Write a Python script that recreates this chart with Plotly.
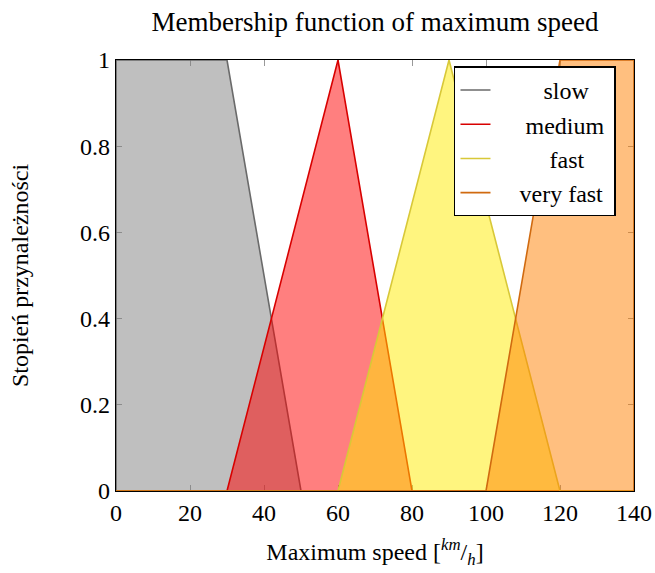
import plotly.graph_objects as go

# Data: breakpoints of each membership function over the speed domain
speed_slow = [0, 0, 30, 50, 140]
mu_slow = [0, 1, 1, 0, 0]
speed_medium = [0, 30, 60, 80, 140]
mu_medium = [0, 0, 1, 0, 0]
speed_fast = [0, 60, 90, 120, 140]
mu_fast = [0, 0, 1, 0, 0]
speed_vfast = [0, 100, 120, 140, 140]
mu_vfast = [0, 0, 1, 1, 0]

names = ["slow", "medium", "fast", "very fast"]
NB = "\u00a0"
legend_labels = [NB * 8 + "slow", NB * 5 + "medium", NB * 9 + "fast", NB * 4 + "very fast" + NB]
xs = [speed_slow, speed_medium, speed_fast, speed_vfast]
ys = [mu_slow, mu_medium, mu_fast, mu_vfast]
line_colors = ["#6a6a6a", "#d80000", "#d8c838", "#d06a10"]
fill_colors = ["rgba(128,128,128,0.5)", "rgba(255,0,0,0.5)",
               "rgba(255,235,0,0.5)", "rgba(255,128,0,0.5)"]

x_ticks = [0, 20, 40, 60, 80, 100, 120, 140]
y_ticks = [0, 0.2, 0.4, 0.6, 0.8, 1]
y_ticktext = ["0", "0.2", "0.4", "0.6", "0.8", "1"]

FONT = "Liberation Serif, Times New Roman, serif"
FS = 24

fig = go.Figure()
for n, x, y, lc, fc in zip(names, xs, ys, line_colors, fill_colors):
    fig.add_trace(go.Scatter(x=x, y=y, mode="lines", fill="toself",
                             fillcolor=fc, line=dict(color=lc, width=1.6),
                             showlegend=False, hoverinfo="skip"))
for lab, lc in zip(legend_labels, line_colors):
    fig.add_trace(go.Scatter(x=[None], y=[None], mode="lines", name=lab,
                             line=dict(color=lc, width=1.6)))

fig.update_layout(
    width=655, height=573,
    margin=dict(l=116, r=21, t=60, b=82),
    paper_bgcolor="white", plot_bgcolor="white",
    font=dict(family=FONT, size=FS, color="black"),
    title=dict(text="Membership function of maximum speed", x=0.5725, xanchor="center",
               y=0.963, yanchor="middle", font=dict(family=FONT, size=27)),
    legend=dict(x=0.6525, y=0.985, xanchor="left", yanchor="top",
                bordercolor="black", borderwidth=1.5, bgcolor="white",
                font=dict(family=FONT, size=24), tracegroupgap=0),
    xaxis=dict(range=[0, 140], tickvals=x_ticks, ticks="inside", ticklen=6,
               tickcolor="#999999", showline=True, linecolor="black", linewidth=1.2,
               mirror="ticks", showgrid=False, zeroline=False, layer="below traces",
               automargin=False,
               title=dict(text="Maximum speed [<sup><i>km</i></sup>/<sub><i>h</i></sub>]",
                          font=dict(family=FONT, size=FS), standoff=18),
               tickfont=dict(family=FONT, size=FS)),
    yaxis=dict(range=[0, 1], tickvals=y_ticks, ticktext=y_ticktext, ticks="inside",
               ticklen=6, tickcolor="#999999", showline=True, linecolor="black",
               linewidth=1.2, mirror="ticks", showgrid=False, zeroline=False,
               layer="below traces", automargin=False,
               title=dict(text="Stopień przynależności", font=dict(family=FONT, size=FS),
                          standoff=44),
               tickfont=dict(family=FONT, size=FS)),
)

fig.write_html("out.html")
